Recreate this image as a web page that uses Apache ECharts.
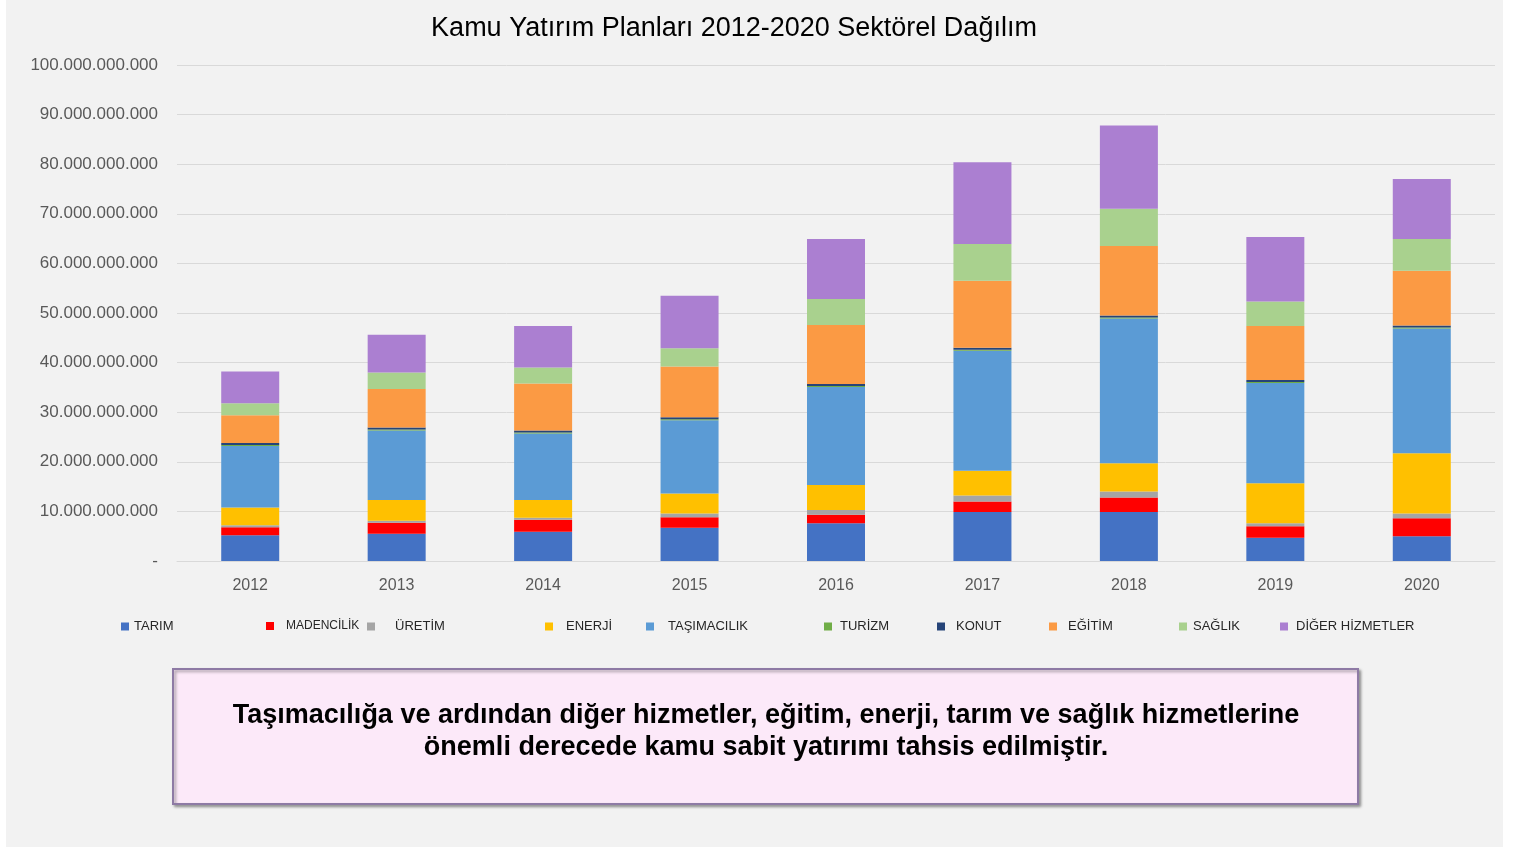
<!DOCTYPE html>
<html>
<head>
<meta charset="utf-8">
<script src="https://cdn.jsdelivr.net/npm/echarts@6/dist/echarts.min.js"></script>
<style>
html,body{margin:0;padding:0;background:#ffffff;}
#bg{position:absolute;left:6px;top:0;width:1497px;height:847px;background:#f2f2f2;}
#chart{position:absolute;left:0;top:0;width:1523px;height:847px;}
</style>
</head>
<body>
<div id="bg"></div>
<div id="chart"></div>
<script>
// Values in billions (milyar TL)
var years = ['2012','2013','2014','2015','2016','2017','2018','2019','2020'];
var tarim       = [5.2, 5.5, 5.9, 6.7, 7.6, 9.9, 9.9, 4.7, 5.0];
var madencilik  = [1.6, 2.2, 2.4, 2.1, 1.7, 2.1, 2.9, 2.3, 3.6];
var uretim      = [0.4, 0.4, 0.4, 0.8, 1.0, 1.2, 1.2, 0.6, 1.0];
var enerji      = [3.6, 4.2, 3.6, 4.0, 5.0, 5.0, 5.7, 8.1, 12.1];
var tasimacilik = [12.4, 14.0, 13.4, 14.8, 19.8, 24.2, 29.2, 20.2, 25.2];
var turizm      = [0.2, 0.2, 0.2, 0.2, 0.2, 0.2, 0.2, 0.2, 0.2];
var konut       = [0.4, 0.4, 0.4, 0.4, 0.4, 0.4, 0.4, 0.4, 0.4];
var egitim      = [5.6, 7.8, 9.5, 10.2, 11.9, 13.5, 14.0, 10.9, 11.0];
var saglik      = [2.4, 3.3, 3.2, 3.7, 5.2, 7.4, 7.5, 4.9, 6.4];
var diger       = [6.4, 7.6, 8.4, 10.6, 12.1, 16.5, 16.8, 13.0, 12.1];
var yTicks = [0, 10, 20, 30, 40, 50, 60, 70, 80, 90, 100];

var names  = ['TARIM','MADENCİLİK','ÜRETİM','ENERJİ','TAŞIMACILIK','TURİZM','KONUT','EĞİTİM','SAĞLIK','DİĞER HİZMETLER'];
var values = [tarim, madencilik, uretim, enerji, tasimacilik, turizm, konut, egitim, saglik, diger];
var colors = ['#4472c4','#ff0000','#a5a5a5','#ffc000','#5b9bd5','#70ad47','#264478','#fb9a44','#a9d18e','#ab7fd1'];

// legend layout
var legLeft = [121, 266, 367, 545, 646, 824, 937, 1049, 1179, 1280];
var legPad  = [0, 7, 15, 8, 9, 3, 6, 6, 1, 3];
var legSize = [13, 12, 13, 13, 13, 13, 13, 13, 13, 13];

function fmt(v){
  if (v === 0) return '-';
  var s = String(Math.round(v * 1e9));
  return s.replace(/\B(?=(\d{3})+(?!\d))/g, '.');
}

var chart = echarts.init(document.getElementById('chart'), null, {renderer:'canvas'});

var legends = names.map(function(n, i){
  return {
    data: [n],
    left: legLeft[i],
    top: 620,
    icon: 'rect',
    itemWidth: 8,
    itemHeight: 8,
    padding: 0,
    selectedMode: false,
    textStyle: {
      fontFamily: 'Liberation Sans, Arial, sans-serif',
      fontSize: legSize[i],
      color: '#262626',
      padding: [0, 0, 0, legPad[i]]
    }
  };
});

var series = names.map(function(n, i){
  return {
    name: n,
    type: 'bar',
    stack: 'total',
    barWidth: 58,
    data: values[i],
    itemStyle: { color: colors[i] },
    emphasis: { disabled: true }
  };
});

chart.setOption({
  backgroundColor: 'transparent',
  animation: false,
  color: colors,
  title: {
    text: 'Kamu Yatırım Planları 2012-2020 Sektörel Dağılım',
    left: 729,
    textAlign: 'center',
    top: 10,
    textStyle: {
      fontFamily: 'Liberation Sans, Arial, sans-serif',
      fontSize: 27,
      fontWeight: 'normal',
      color: '#000000'
    }
  },
  legend: legends,
  grid: { left: 177, top: 65, width: 1318, height: 496, containLabel: false },
  xAxis: {
    type: 'category',
    data: years,
    axisLine: { lineStyle: { color: '#d9d9d9', width: 1 } },
    axisTick: { show: false },
    axisLabel: {
      fontFamily: 'Liberation Sans, Arial, sans-serif',
      fontSize: 16,
      color: '#595959',
      margin: 17
    }
  },
  yAxis: {
    type: 'value',
    min: 0,
    max: 100,
    interval: 10,
    axisLine: { show: false },
    axisTick: { show: false },
    splitLine: { lineStyle: { color: '#d9d9d9', width: 1 } },
    axisLabel: {
      fontFamily: 'Liberation Sans, Arial, sans-serif',
      fontSize: 17,
      color: '#595959',
      margin: 19,
      formatter: function(v){ return yTicks.indexOf(v) >= 0 ? fmt(v) : ''; }
    }
  },
  series: series,
  graphic: [
    {
      type: 'rect',
      shape: { x: 173, y: 669, width: 1185, height: 135 },
      style: {
        fill: '#fce9f9',
        stroke: '#8e7aa5',
        lineWidth: 2,
        shadowColor: 'rgba(0,0,0,0.35)',
        shadowBlur: 3,
        shadowOffsetX: 2,
        shadowOffsetY: 2
      }
    },
    {
      type: 'text',
      x: 766,
      y: 732,
      style: {
        text: 'Taşımacılığa ve ardından diğer hizmetler, eğitim, enerji, tarım ve sağlık hizmetlerine\nönemli derecede kamu sabit yatırımı tahsis edilmiştir.',
        fill: '#000000',
        fontFamily: 'Liberation Sans, Arial, sans-serif',
        fontSize: 27,
        fontWeight: 'bold',
        lineHeight: 32,
        align: 'center',
        verticalAlign: 'middle'
      }
    }
  ]
});
</script>
</body>
</html>
